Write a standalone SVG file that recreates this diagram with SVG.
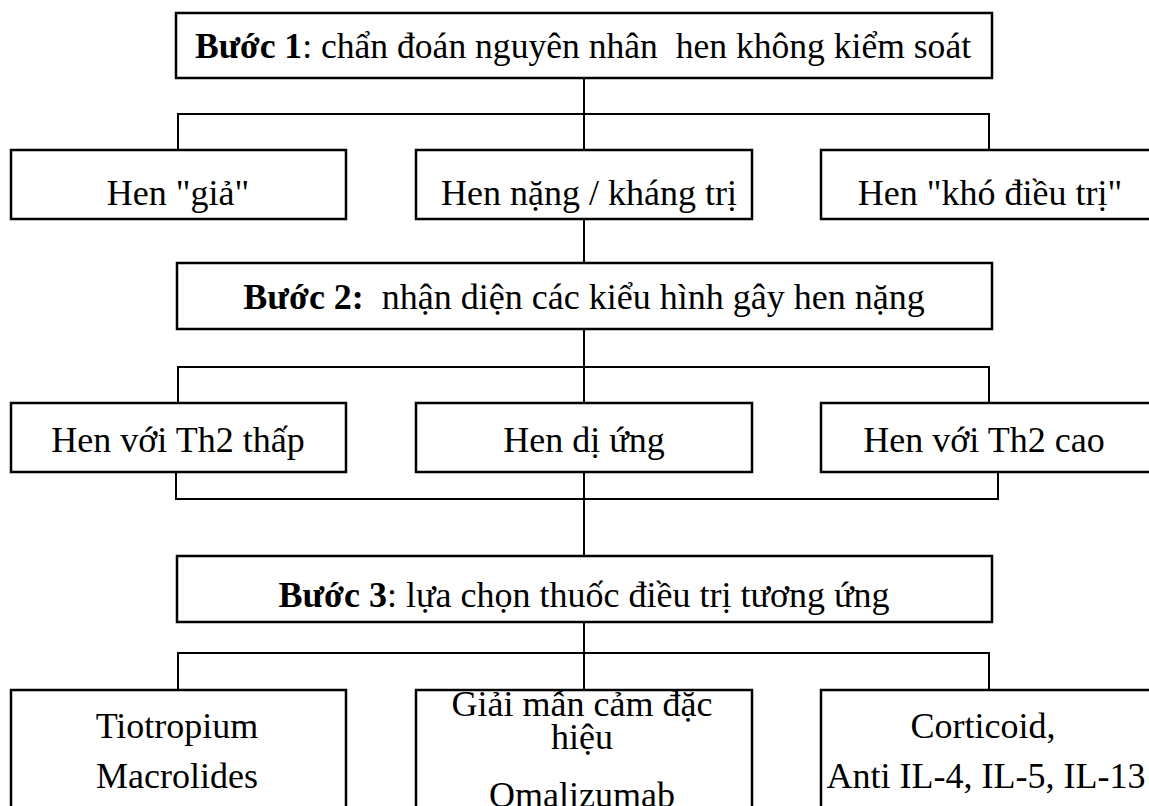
<svg xmlns="http://www.w3.org/2000/svg" width="1149" height="806" viewBox="0 0 1149 806">
  <style>
    .box { fill: #ffffff; stroke: #000000; stroke-width: 2.5; }
    .wire { fill: none; stroke: #000000; stroke-width: 2; }
    text { font-family: "Liberation Serif", "Times New Roman", serif; font-size: 36px; fill: #000000; text-anchor: middle; white-space: pre; }
    .b { font-weight: bold; }
  </style>

  <!-- connectors -->
  <g id="connectors">
    <!-- step 1 to its three branches -->
    <path class="wire" d="M584 78 V150 M178 149 V114 H989 V149"/>
    <!-- severe asthma down to step 2 -->
    <path class="wire" d="M584 219 V263"/>
    <!-- step 2 to the phenotypes -->
    <path class="wire" d="M584 329 V403 M178 402 V367 H989 V402"/>
    <!-- phenotypes gathered back to step 3 -->
    <path class="wire" d="M176 462 V499 H998 V462 M584 472 V556"/>
    <!-- step 3 to the treatments -->
    <path class="wire" d="M584 622 V690 M178 689 V653 H989 V689"/>
  </g>

  <g id="step1">
    <rect class="box" x="176" y="13" width="816" height="65"/>
    <text x="583" y="58" xml:space="preserve" style="font-size:35.6px"><tspan class="b">Bước 1</tspan>: chẩn đoán nguyên nhân  hen không kiểm soát</text>
  </g>

  <g id="hen-gia">
    <rect class="box" x="11" y="150" width="335" height="69"/>
    <text x="178" y="205">Hen "giả"</text>
  </g>
  <g id="hen-nang">
    <rect class="box" x="416" y="150" width="336" height="69"/>
    <text x="589" y="205">Hen nặng / kháng trị</text>
  </g>
  <g id="hen-kho">
    <rect class="box" x="821" y="150" width="335" height="69"/>
    <text x="990" y="205">Hen "khó điều trị"</text>
  </g>

  <g id="step2">
    <rect class="box" x="177" y="263" width="815" height="66"/>
    <text x="584" y="309" xml:space="preserve"><tspan class="b">Bước 2:</tspan>  nhận diện các kiểu hình gây hen nặng</text>
  </g>

  <g id="th2-thap">
    <rect class="box" x="11" y="403" width="335" height="69"/>
    <text x="178" y="452">Hen với Th2 thấp</text>
  </g>
  <g id="di-ung">
    <rect class="box" x="416" y="403" width="336" height="69"/>
    <text x="584" y="452">Hen dị ứng</text>
  </g>
  <g id="th2-cao">
    <rect class="box" x="821" y="403" width="335" height="69"/>
    <text x="984" y="452">Hen với Th2 cao</text>
  </g>

  <g id="step3">
    <rect class="box" x="177" y="556" width="815" height="66"/>
    <text x="584" y="607"><tspan class="b">Bước 3</tspan>: lựa chọn thuốc điều trị tương ứng</text>
  </g>

  <g id="tx-low">
    <rect class="box" x="11" y="690" width="335" height="130"/>
    <text x="177" y="738">Tiotropium</text>
    <text x="177" y="788">Macrolides</text>
  </g>
  <g id="tx-allergy">
    <rect class="box" x="416" y="690" width="336" height="130"/>
    <text x="582" y="716">Giải mẫn cảm đặc</text>
    <text x="582" y="749">hiệu</text>
    <text x="582" y="807">Omalizumab</text>
  </g>
  <g id="tx-high">
    <rect class="box" x="821" y="690" width="335" height="130"/>
    <text x="983" y="738">Corticoid,</text>
    <text x="986" y="788">Anti IL-4, IL-5, IL-13</text>
  </g>
</svg>
